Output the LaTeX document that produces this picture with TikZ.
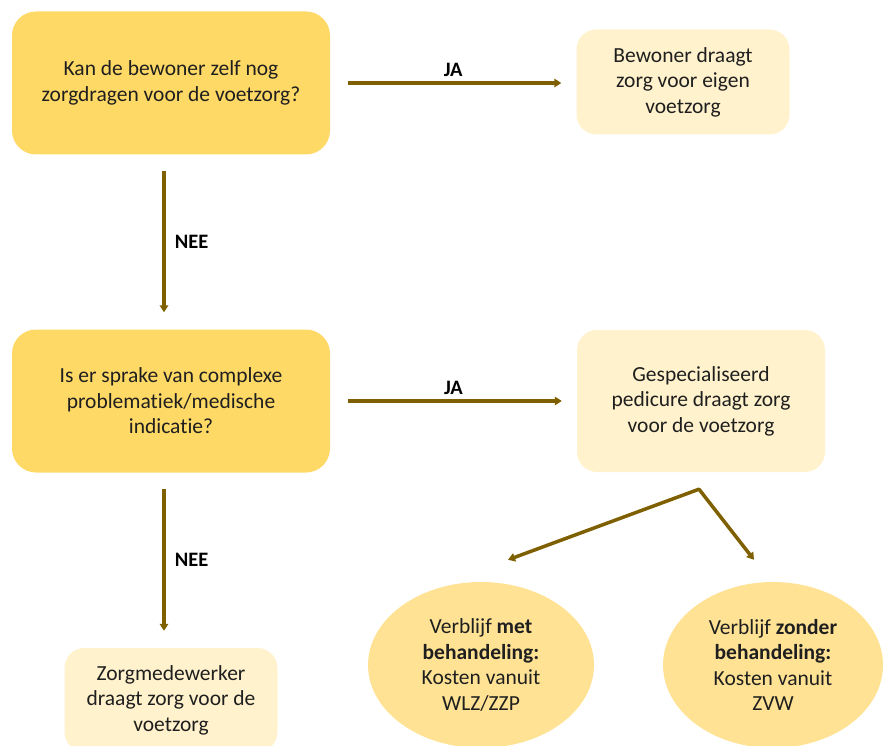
\documentclass[tikz,border=0pt]{standalone}
\usepackage{fontspec}
\setmainfont[Ligatures=NoCommon]{Carlito}
\usepackage{xcolor}
\usetikzlibrary{arrows.meta, shapes.geometric, positioning}
\definecolor{qgold}{HTML}{FFD966}
\definecolor{alight}{HTML}{FFF2CC}
\definecolor{egold}{HTML}{FFE294}
\definecolor{flowbrown}{HTML}{7F6000}
\tikzset{
	question/.style={fill=qgold, rounded corners=24pt, minimum width=318pt, minimum height=143pt,
		align=center, text=black!88, font=\fontsize{21.5}{25.5}\selectfont},
	answer/.style={fill=alight, rounded corners=20pt, align=center, text=black!88,
		font=\fontsize{21.5}{25.5}\selectfont},
	outcome/.style={ellipse, fill=egold, minimum width=226pt, minimum height=166pt, inner sep=0pt,
		align=center, text=black!88, font=\fontsize{21.5}{25.5}\selectfont},
	flow/.style={draw=flowbrown, line width=3.5pt, -{Triangle[length=7pt,width=8.5pt]}},
	reply/.style={font=\fontsize{20.5}{24}\selectfont\bfseries, text=black}
}

\begin{document}
\begin{tikzpicture}[x=1pt, y=-1pt]
			\useasboundingbox (0,0) rectangle (891,746);
			% questions
			\node[question] (q1) at (171,83) {Kan de bewoner zelf nog\\zorgdragen voor de voetzorg?};
			\node[question] (q2) at (171,401) {Is er sprake van complexe\\problematiek/medische\\indicatie?};
			% answers
			\node[answer, minimum width=213pt, minimum height=105pt] (a1) at (683,82) {Bewoner draagt\\zorg voor eigen\\voetzorg};
			\node[answer, minimum width=248pt, minimum height=142pt] (a2) at (701,401) {Gespecialiseerd\\pedicure draagt zorg\\voor de voetzorg};
			\node[answer, minimum width=213pt, minimum height=104pt] (a3) at (171,700) {Zorgmedewerker\\draagt zorg voor de\\voetzorg};
			% costs
			\node[outcome] (e1) at (481,665) {Verblijf \textbf{met}\\\textbf{behandeling:}\\Kosten vanuit\\WLZ/ZZP};
			\node[outcome, minimum width=220pt] (e2) at (773,665) {Verblijf \textbf{zonder}\\\textbf{behandeling:}\\Kosten vanuit\\ZVW};
			% arrows
			\draw[flow, shorten <=18pt, shorten >=15pt] (q1.east) -- node[reply, above, inner sep=5pt] {JA} (a1.west |- q1.east);
			\draw[flow, shorten <=18pt, shorten >=15pt] (q2.east) -- node[reply, above, inner sep=5pt] {JA} (a2.west);
			\draw[flow, shorten <=16pt, shorten >=17pt] ([xshift=-7pt]q1.south) -- node[reply, right, inner sep=9pt] {NEE} ([xshift=-7pt]q2.north);
			\draw[flow, shorten <=16pt, shorten >=17pt] ([xshift=-7pt]q2.south) -- node[reply, right, inner sep=9pt] {NEE} ([xshift=-7pt]a3.north);
			\coordinate (fork) at ([xshift=-2pt, yshift=-17pt]a2.south);
			\coordinate (tip1) at ([shift={(27,-22)}]e1.north);
			\coordinate (tip2) at ([shift={(-19,-22)}]e2.north);
			\draw[flow, {Triangle[length=7pt,width=8.5pt]}-{Triangle[length=7pt,width=8.5pt]}, line join=round] (tip1) -- (fork) -- (tip2);
\end{tikzpicture}
\end{document}
